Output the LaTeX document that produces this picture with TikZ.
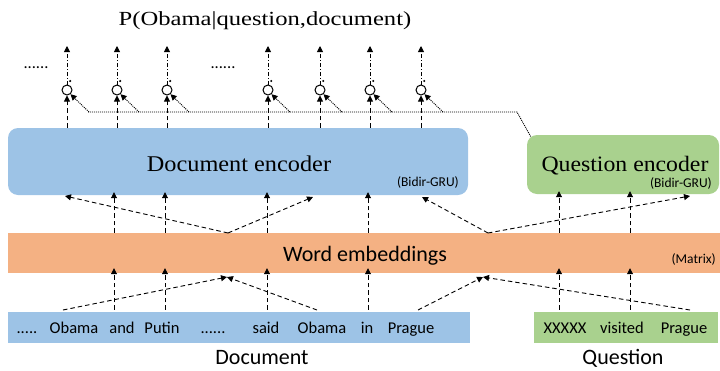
\documentclass[tikz,border=0pt]{standalone}
\usepackage{fontspec}
\setmainfont{Liberation Serif}
\newfontfamily\titlefont[FakeStretch=1.23]{Liberation Serif}
\newfontfamily\encfont[FakeStretch=1.08]{Liberation Serif}
\newfontfamily\sansfont{Carlito}
\usetikzlibrary{arrows.meta}
\definecolor{docblue}{HTML}{9DC3E6}
\definecolor{embor}{HTML}{F4B183}
\definecolor{qgreen}{HTML}{A9D18E}
\begin{document}
\begin{tikzpicture}[x=1pt,y=-1pt,
  box/.style={inner sep=0pt,anchor=center},
  dar/.style={dash pattern=on 4.5pt off 3pt,line width=0.9pt,-{Triangle[length=6pt,width=6pt]}},
  ddar/.style={dash pattern=on 4pt off 2pt on 1pt off 2pt,line width=0.9pt,-{Triangle[length=6pt,width=6pt]}},
  dotar/.style={dash pattern=on 1pt off 1pt,line width=0.9pt,-{Triangle[length=6pt,width=6pt]}},
  dotln/.style={dash pattern=on 1pt off 1pt,line width=0.9pt},
  gate/.style={circle,draw,line width=1pt,inner sep=0pt,minimum size=10pt,fill=white},
  word/.style={font=\sansfont\fontsize{16.5}{18}\selectfont,anchor=base,inner sep=0pt},
  small/.style={font=\sansfont\fontsize{13.5}{15}\selectfont,anchor=base east,inner sep=0pt}]
\useasboundingbox (0,0) rectangle (720,370);

% boxes
\node[box,fill=docblue,rounded corners=10pt,minimum width=460pt,minimum height=67pt] (denc) at (238,161.5) {};
\node[box,fill=qgreen,rounded corners=10pt,minimum width=192pt,minimum height=59pt] (qenc) at (623,164.5) {};
\node[box,fill=embor,minimum width=712pt,minimum height=40pt] (emb) at (364,253) {};
\node[box,fill=docblue,minimum width=462pt,minimum height=31pt] (dw) at (239,327.5) {};
\node[box,fill=qgreen,minimum width=184pt,minimum height=31pt] (qw) at (626,327.5) {};

% texts
\node[anchor=base,inner sep=0pt,font=\titlefont\fontsize{20}{22}\selectfont] (title) at (265,25) {P(Obama|question,document)};
\node[anchor=base,inner sep=0pt,font=\encfont\fontsize{22.5}{24}\selectfont] (dencl) at (239,171) {Document encoder};
\node[anchor=base,inner sep=0pt,font=\encfont\fontsize{22}{24}\selectfont] (qencl) at (625,171.5) {Question encoder};
\node[small] (dgru) at (459,186) {(Bidir-GRU)};
\node[small] (qgru) at (712,187) {(Bidir-GRU)};
\node[anchor=base,inner sep=0pt,font=\sansfont\fontsize{22}{24}\selectfont] (embl) at (365,261) {Word embeddings};
\node[small] (matl) at (716,263) {(Matrix)};
\node[anchor=base,inner sep=0pt,font=\sansfont\fontsize{22}{24}\selectfont] (docl) at (262,364) {Document};
\node[anchor=base,inner sep=0pt,font=\sansfont\fontsize{22}{24}\selectfont] (ql) at (623,364) {Question};

\node[word] (w1) at (27,333) {.....};
\node[word] (w2) at (74,333) {Obama};
\node[word] (w3) at (122,333) {and};
\node[word] (w4) at (162,333) {Putin};
\node[word] (w5) at (213,333) {......};
\node[word] (w6) at (266,333) {said};
\node[word] (w7) at (322,333) {Obama};
\node[word] (w8) at (367,333) {in};
\node[word] (w9) at (411,333) {Prague};
\node[word] (q1) at (565,333) {XXXXX};
\node[word] (q2) at (622,333) {visited};
\node[word] (q3) at (684,333) {Prague};

\node[word] (dots1) at (36,68) {......};
\node[word] (dots2) at (223,68) {......};

% vertical arrows between words, embeddings and encoders
\foreach \x in {114,165,267,368}{
  \draw[dar] (dw.north -| \x,0) ++(0,-2) -- ([yshift=5pt]emb.south -| \x,0);
  \draw[dar] (emb.north -| \x,0) -- ([yshift=3pt]denc.south -| \x,0);
}
\foreach \x in {559,630}{
  \draw[dar] (qw.north -| \x,0) ++(0,-2) -- ([yshift=5pt]emb.south -| \x,0);
  \draw[dar] (emb.north -| \x,0) -- ([yshift=3pt]qenc.south -| \x,0);
}
% diagonal arrows
\coordinate (ua) at (228,233);
\coordinate (ub) at (488,233);
\coordinate (la) at (227,277);
\coordinate (lb) at (483,277);
\draw[dar] (ua) -- (65,196);
\draw[dar] (ua) -- (313,197);
\draw[dar] (ub) -- (422,197);
\draw[dar] (ub) -- (690,196);
\draw[dar] (63,310) -- (la);
\draw[dar] (317,310) -- (la);
\draw[dar] (418,310) -- (lb);
\draw[dar] (690,310) -- (lb);

% gates and outputs
\foreach \x [count=\i] in {67,117,167,268,320,370,421}{
  \node[gate] (g\i) at (\x,90) {};
  \draw[dar] (denc.north -| \x,0) -- (g\i.south);
  \draw[ddar] (g\i.north) -- (\x,46);
  \fill (\x+3.2,81) circle (1.2pt);
  \draw[dotar] (\x+22,112) -- (g\i.-50);
}
\coordinate (hl) at (88,112);
\coordinate (hr) at (517,112);
\draw[dotln] (hl) -- (hr) -- ([shift={(4pt,-2pt)}]qenc.north west);
\end{tikzpicture}
\end{document}
